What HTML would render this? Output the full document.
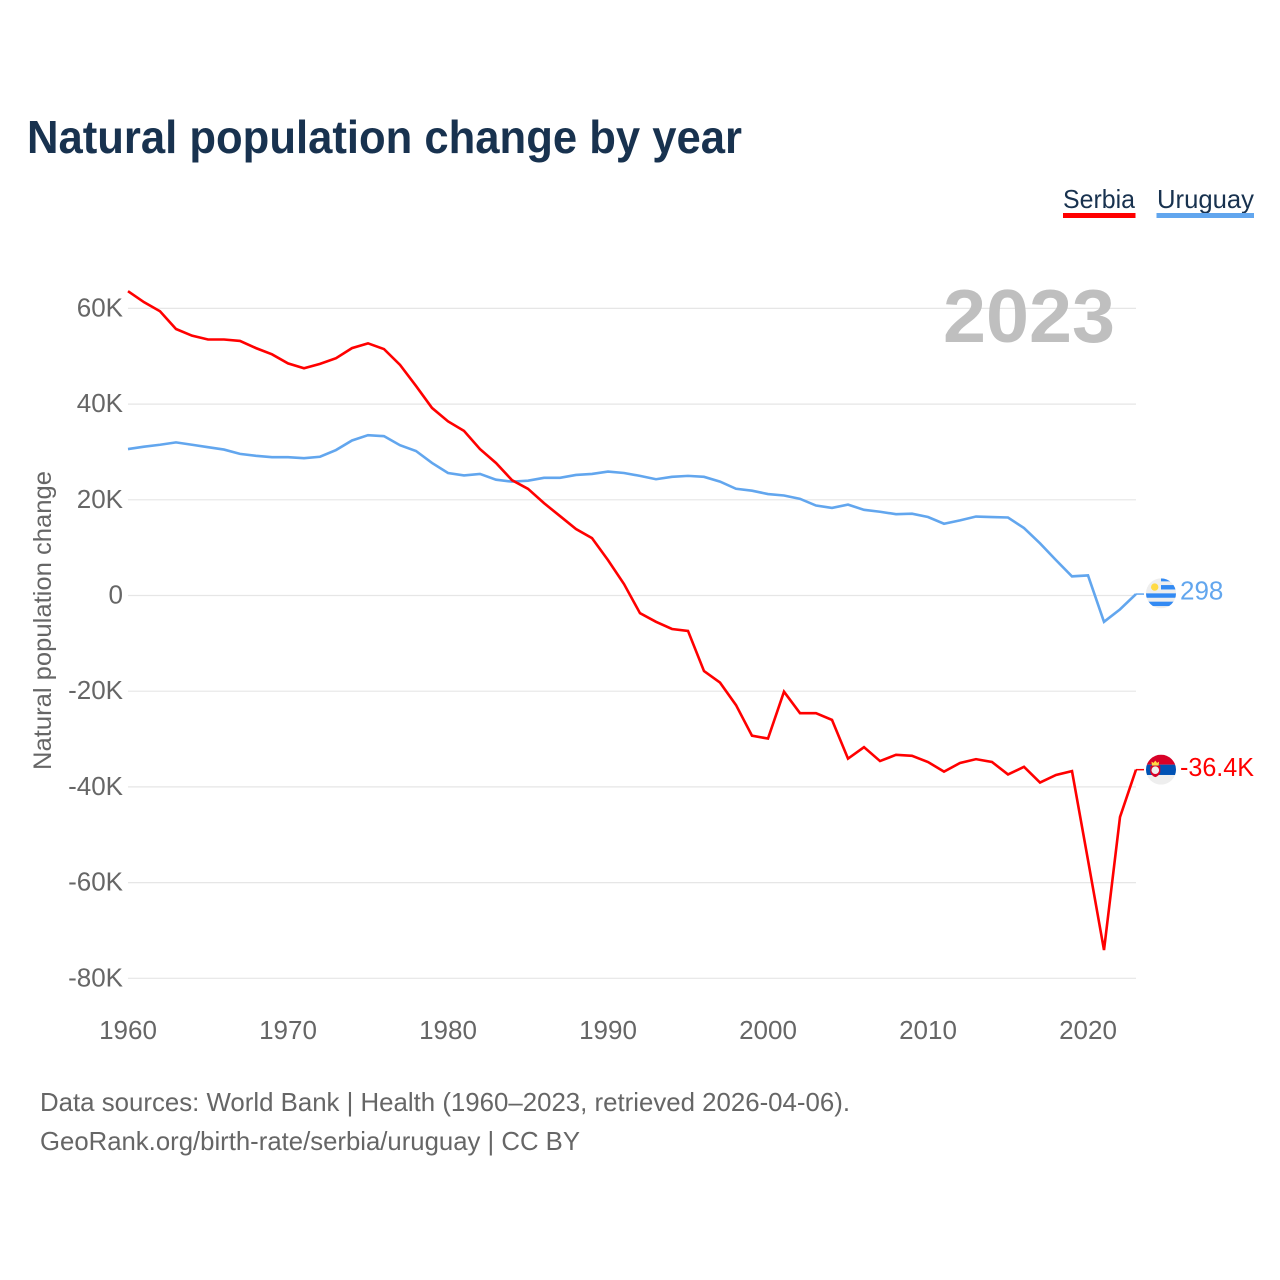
<!DOCTYPE html>
<html lang="en">
<head>
<meta charset="utf-8">
<title>Natural population change by year</title>
<style>
html,body{margin:0;padding:0;background:#fff;width:1280px;height:1280px;overflow:hidden}
svg{display:block}
text{font-family:"Liberation Sans",sans-serif}
</style>
</head>
<body>
<svg id="chart" xmlns="http://www.w3.org/2000/svg" width="1280" height="1280" viewBox="0 0 1280 1280">
  <defs>
    <clipPath id="flag-clip"><circle cx="0" cy="0" r="15"></circle></clipPath>
  </defs>
  <text x="27" y="153" font-size="46" font-weight="700" fill="#18324f" textLength="715" lengthAdjust="spacingAndGlyphs">Natural population change by year</text>

  <g>
    <g>
      <text x="1063" y="208" font-size="26" fill="#18324f" textLength="72" lengthAdjust="spacingAndGlyphs">Serbia</text>
      <rect x="1063" y="213" width="72.5" height="5" fill="#ff0000"></rect>
    </g>
    <g>
      <text x="1157" y="208" font-size="26" fill="#18324f" textLength="97" lengthAdjust="spacingAndGlyphs">Uruguay</text>
      <rect x="1156.5" y="213" width="97.5" height="5" fill="#62a6ee"></rect>
    </g>
  </g>

  <text transform="translate(51,770) rotate(-90)" font-size="25" fill="#666666" textLength="299" lengthAdjust="spacingAndGlyphs">Natural population change</text>

  <g id="grid"></g>
  <g id="y-ticks"></g>
  <g id="x-ticks"></g>

  <text x="943" y="342" font-size="75" font-weight="700" fill="#bfbfbf" textLength="172" lengthAdjust="spacingAndGlyphs">2023</text>

  <g id="series"></g>

  <g id="flag-uruguay">
    <g clip-path="url(#flag-clip)">
      <rect x="-15" y="-15" width="30" height="30" fill="#eeeeee"></rect>
      <rect x="0" y="-15" width="15" height="3" fill="#338af3"></rect>
      <rect x="0" y="-8.3" width="15" height="4.4" fill="#338af3"></rect>
      <rect x="-15" y="0" width="30" height="4.4" fill="#338af3"></rect>
      <rect x="-15" y="8.3" width="30" height="4.4" fill="#338af3"></rect>
      <circle cx="-6.3" cy="-6.3" r="3.7" fill="#ffda44"></circle>
    </g>
  </g>
  <g id="flag-serbia">
    <g clip-path="url(#flag-clip)">
      <rect x="-15" y="-15" width="30" height="30" fill="#eeeeee"></rect>
      <rect x="-15" y="-15" width="30" height="10" fill="#d80027"></rect>
      <rect x="-15" y="-5" width="30" height="10.3" fill="#0052b4"></rect>
      <path d="M-9,-4 L-9.5,-8 L-7.5,-6.8 L-5.7,-9 L-3.9,-6.8 L-1.9,-8 L-2.4,-4 Z" fill="#ffda44"></path>
      <path d="M-10.7,-4 H-0.7 V2.5 Q-1.5,6 -5.7,7.5 Q-9.9,6 -10.7,2.5 Z" fill="#d80027"></path>
      <circle cx="-5.7" cy="0.5" r="3.8" fill="#eeeeee"></circle>
    </g>
  </g>

  <g id="end-labels"></g>

  <g>
    <text x="40" y="1111" font-size="26" fill="#666666" textLength="810" lengthAdjust="spacingAndGlyphs">Data sources: World Bank | Health (1960–2023, retrieved 2026-04-06).</text>
    <text x="40" y="1150" font-size="26" fill="#666666" textLength="540" lengthAdjust="spacingAndGlyphs">GeoRank.org/birth-rate/serbia/uruguay | CC BY</text>
  </g>
</svg>
<script>
const years = [1960,1961,1962,1963,1964,1965,1966,1967,1968,1969,1970,1971,1972,1973,1974,1975,1976,1977,1978,1979,1980,1981,1982,1983,1984,1985,1986,1987,1988,1989,1990,1991,1992,1993,1994,1995,1996,1997,1998,1999,2000,2001,2002,2003,2004,2005,2006,2007,2008,2009,2010,2011,2012,2013,2014,2015,2016,2017,2018,2019,2020,2021,2022,2023];
const serbia = [63.6,61.3,59.4,55.7,54.3,53.5,53.5,53.2,51.7,50.4,48.5,47.5,48.4,49.6,51.7,52.7,51.5,48.2,43.8,39.2,36.4,34.4,30.6,27.7,24.1,22.3,19.3,16.6,13.9,12.0,7.4,2.4,-3.7,-5.5,-7.0,-7.4,-15.8,-18.2,-22.9,-29.3,-29.9,-20.1,-24.6,-24.6,-26.0,-34.1,-31.7,-34.6,-33.3,-33.5,-34.8,-36.8,-35.0,-34.2,-34.8,-37.4,-35.8,-39.1,-37.5,-36.7,-55.3,-74.1,-46.3,-36.4];
const uruguay = [30.6,31.1,31.5,32.0,31.5,31.0,30.5,29.6,29.2,28.9,28.9,28.7,29.0,30.4,32.4,33.5,33.3,31.4,30.2,27.7,25.6,25.1,25.4,24.2,23.8,24.0,24.6,24.6,25.2,25.4,25.9,25.6,25.0,24.3,24.8,25.0,24.8,23.8,22.3,21.9,21.2,20.9,20.2,18.8,18.3,19.0,17.9,17.5,17.0,17.1,16.4,15.0,15.7,16.5,16.4,16.3,14.1,10.9,7.4,4.0,4.2,-5.5,-2.9,0.3];
const yTicks = [60,40,20,0,-20,-40,-60,-80];
const yTickLabels = ["60K","40K","20K","0","-20K","-40K","-60K","-80K"];
const xTicks = [1960,1970,1980,1990,2000,2010,2020];
const endLabels = ["-36.4K","298"];

const NS = "http://www.w3.org/2000/svg";
function xScale(year){ return 128 + (year - 1960) * 16; }
function yScale(v){ return 595.5 - v * 4.785; }
function make(tag, attrs, parent){
  const el = document.createElementNS(NS, tag);
  for (const k in attrs) el.setAttribute(k, attrs[k]);
  parent.appendChild(el);
  return el;
}

const grid = document.getElementById("grid");
const yG = document.getElementById("y-ticks");
yTicks.forEach(function(t, i){
  const line = make("line", {x1:128, x2:1136, y1:yScale(t), y2:yScale(t), stroke:"#e6e6e6", "stroke-width":1.2}, grid);
  
  
  const label = make("text", {x:123, y:yScale(t) + 8, "text-anchor":"end", "font-size":26, fill:"#666666"}, yG);
  
  
  label.textContent = yTickLabels[i];
});

const xG = document.getElementById("x-ticks");
xTicks.forEach(function(t){
  const label = make("text", {x:xScale(t), y:1039, "text-anchor":"middle", "font-size":26, fill:"#666666"}, xG);
  
  
  label.textContent = t;
});

function pathFor(values){
  return values.map(function(v, i){ return (i ? "L" : "M") + xScale(years[i]) + "," + yScale(v); }).join(" ");
}
const seriesG = document.getElementById("series");
const uruguayColor = "#62a6ee";
const serbiaColor = "#ff0000";

const uruguayLine = make("path", {d:pathFor(uruguay), fill:"none", stroke:uruguayColor, "stroke-width":2.6, "stroke-linejoin":"miter"}, seriesG);


const serbiaLine = make("path", {d:pathFor(serbia), fill:"none", stroke:serbiaColor, "stroke-width":2.6, "stroke-linejoin":"miter"}, seriesG);



const lastX = xScale(years[years.length - 1]);
const serbiaY = yScale(serbia[serbia.length - 1]);
const uruguayY = yScale(uruguay[uruguay.length - 1]);

const serbiaConn = make("line", {x1:lastX, x2:lastX + 8, y1:serbiaY, y2:serbiaY, stroke:serbiaColor, "stroke-width":1.5}, seriesG);


const uruguayConn = make("line", {x1:lastX, x2:lastX + 8, y1:uruguayY, y2:uruguayY, stroke:uruguayColor, "stroke-width":1.5}, seriesG);



document.getElementById("flag-uruguay").setAttribute("transform", "translate(" + (lastX + 25) + "," + (uruguayY - 0.7) + ")");
document.getElementById("flag-serbia").setAttribute("transform", "translate(" + (lastX + 25) + "," + serbiaY + ")");

const labelsG = document.getElementById("end-labels");
const serbiaLabel = make("text", {x:lastX + 44, y:serbiaY + 6.5, "font-size":26, fill:serbiaColor, textLength:74, lengthAdjust:"spacingAndGlyphs"}, labelsG);


serbiaLabel.textContent = endLabels[0];
const uruguayLabel = make("text", {x:lastX + 44, y:uruguayY + 5.5, "font-size":26, fill:uruguayColor}, labelsG);


uruguayLabel.textContent = endLabels[1];
</script>
</body>
</html>
